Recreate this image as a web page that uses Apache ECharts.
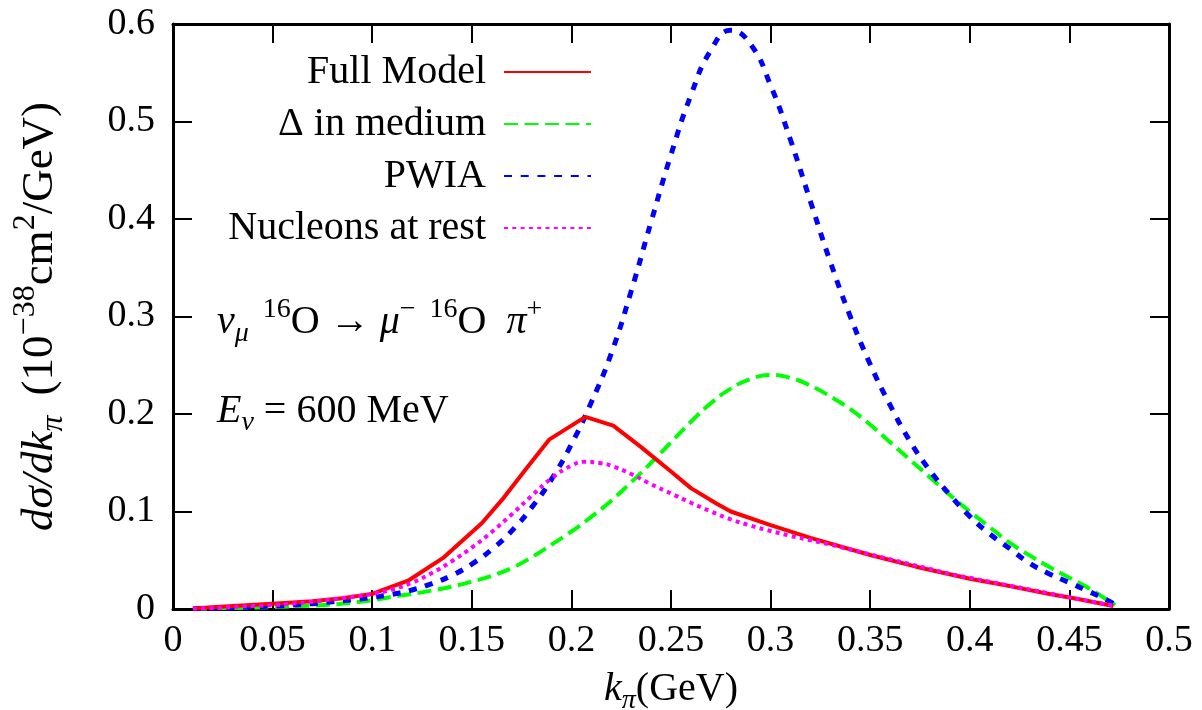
<!DOCTYPE html>
<html>
<head>
<meta charset="utf-8">
<script src="https://cdn.jsdelivr.net/npm/echarts@6/dist/echarts.min.js"></script>
<style>
  html, body { margin: 0; padding: 0; background: #fff; overflow: hidden; }
  #chart { width: 1202px; height: 710px; }
</style>
</head>
<body>
<div id="chart"></div>
<script>
// Pion momentum k_pi (GeV) and d(sigma)/dk_pi (10^-38 cm^2/GeV)
const fullModelK = [0.01, 0.03, 0.05, 0.07, 0.085, 0.1, 0.118, 0.136, 0.155, 0.166, 0.177, 0.189, 0.207, 0.221, 0.235, 0.25, 0.26, 0.273, 0.28, 0.30, 0.32, 0.35, 0.373, 0.40, 0.42, 0.44, 0.455, 0.472];
const fullModel  = [0.0005, 0.003, 0.0055, 0.008, 0.011, 0.0155, 0.029, 0.053, 0.088, 0.114, 0.143, 0.174, 0.197, 0.188, 0.166, 0.141, 0.124, 0.108, 0.100, 0.086, 0.073, 0.0554, 0.0434, 0.031, 0.0235, 0.0154, 0.010, 0.003];

const deltaK = [0.01, 0.03, 0.05, 0.07, 0.08, 0.09, 0.10, 0.11, 0.12, 0.13, 0.14, 0.15, 0.16, 0.17, 0.18, 0.19, 0.20, 0.21, 0.22, 0.23, 0.24, 0.25, 0.26, 0.27, 0.28, 0.29, 0.30, 0.31, 0.32, 0.33, 0.34, 0.35, 0.36, 0.37, 0.38, 0.39, 0.40, 0.41, 0.42, 0.43, 0.44, 0.45, 0.46, 0.47, 0.473];
const deltaMedium = [0.0005, 0.001, 0.002, 0.0035, 0.0045, 0.0065, 0.009, 0.0125, 0.0155, 0.019, 0.023, 0.028, 0.034, 0.042, 0.053, 0.066, 0.0795, 0.0945, 0.111, 0.130, 0.150, 0.171, 0.192, 0.211, 0.226, 0.236, 0.240, 0.237, 0.229, 0.218, 0.205, 0.189, 0.171, 0.153, 0.135, 0.117, 0.100, 0.084, 0.068, 0.055, 0.043, 0.032, 0.021, 0.008, 0.004];

const pwiaK = [0.01, 0.02, 0.03, 0.04, 0.05, 0.06, 0.07, 0.08, 0.09, 0.10, 0.11, 0.12, 0.13, 0.14, 0.15, 0.16, 0.17, 0.18, 0.19, 0.20, 0.21, 0.22, 0.23, 0.24, 0.25, 0.26, 0.27, 0.28, 0.29, 0.30, 0.31, 0.32, 0.33, 0.34, 0.35, 0.36, 0.37, 0.38, 0.39, 0.40, 0.41, 0.42, 0.43, 0.44, 0.45, 0.46, 0.47, 0.473];
const pwia = [0.0003, 0.0008, 0.0015, 0.0022, 0.003, 0.004, 0.0055, 0.0075, 0.0095, 0.012, 0.015, 0.0195, 0.026, 0.0345, 0.046, 0.061, 0.080, 0.104, 0.133, 0.169, 0.212, 0.262, 0.326, 0.397, 0.466, 0.527, 0.573, 0.5935, 0.579, 0.537, 0.481, 0.418, 0.356, 0.300, 0.251, 0.209, 0.172, 0.142, 0.117, 0.095, 0.077, 0.062, 0.047, 0.036, 0.027, 0.0178, 0.008, 0.004];

const restK = [0.01, 0.02, 0.03, 0.04, 0.05, 0.06, 0.07, 0.08, 0.09, 0.10, 0.11, 0.12, 0.13, 0.14, 0.15, 0.16, 0.17, 0.18, 0.19, 0.20, 0.207, 0.215, 0.22, 0.23, 0.24, 0.25, 0.26, 0.27, 0.28, 0.29, 0.30, 0.31, 0.32, 0.33, 0.34, 0.35, 0.36, 0.37, 0.38, 0.39, 0.40, 0.41, 0.42, 0.43, 0.44, 0.45, 0.46, 0.473];
const nucleonsRest = [0.0005, 0.001, 0.002, 0.003, 0.004, 0.0055, 0.0075, 0.010, 0.0125, 0.0155, 0.020, 0.027, 0.037, 0.049, 0.063, 0.079, 0.097, 0.116, 0.134, 0.147, 0.151, 0.1495, 0.147, 0.1385, 0.128, 0.1185, 0.109, 0.100, 0.092, 0.0855, 0.080, 0.075, 0.0705, 0.066, 0.061, 0.056, 0.051, 0.046, 0.041, 0.036, 0.032, 0.028, 0.024, 0.020, 0.016, 0.012, 0.008, 0.003];

const xTicks = { min: 0, max: 0.5, step: 0.05 };
const yTicks = { min: 0, max: 0.6, step: 0.1 };

const seriesNames = ['Full Model', '\u0394 in medium', 'PWIA', 'Nucleons at rest'];

const pair = (xs, ys) => xs.map((x, i) => [x, ys[i]]);

const SERIF = '"Liberation Serif", "DejaVu Serif", serif';

// rich-text styles for math-like labels at a given body / script size
function mathStyles(fs, ss, lh, gap) {
  const base = { fontFamily: SERIF, color: '#000' };
  return {
    rm:    Object.assign({ fontSize: fs, lineHeight: lh, verticalAlign: 'middle' }, base),
    it:    Object.assign({ fontSize: fs, lineHeight: lh, verticalAlign: 'middle', fontStyle: 'italic' }, base),
    op:    Object.assign({ fontSize: fs, lineHeight: lh, verticalAlign: 'middle', padding: [0, gap, 0, gap] }, base),
    sub:   Object.assign({ fontSize: ss, lineHeight: ss, verticalAlign: 'bottom', fontStyle: 'italic' }, base),
    sup:   Object.assign({ fontSize: ss, lineHeight: ss, verticalAlign: 'top' }, base),
    gap:   Object.assign({ fontSize: fs, lineHeight: lh, verticalAlign: 'middle', padding: [0, 0, 0, gap * 2] }, base)
  };
}
const richBody = mathStyles(40, 28, 52, 10);
const richYTitle = mathStyles(45, 32, 60, 10);

const frameAxis = {
  axisLine: { show: true, onZero: false, lineStyle: { color: '#000', width: 3 } },
  axisTick: { show: true, inside: true, length: 19, lineStyle: { color: '#000', width: 2 } },
  splitLine: { show: false }
};

const chart = echarts.init(document.getElementById('chart'), null, { renderer: 'canvas' });

// one legend block per entry so that every key line ends at the same x
const legendCenters = [72, 124, 176, 228];
const legends = seriesNames.map((name, i) => ({
  data: [name],
  orient: 'vertical',
  align: 'right',
  right: 1202 - 592,
  top: legendCenters[i] - 20,
  padding: 0,
  itemWidth: 87,
  itemHeight: 40,
  selectedMode: false,
  itemStyle: { opacity: 0, borderWidth: 0 },
  textStyle: { fontFamily: SERIF, fontSize: 40, color: '#000', padding: [0, 13, 0, 0] }
}));

chart.setOption({
  animation: false,
  backgroundColor: '#fff',
  grid: { left: 173, right: 33, top: 24, bottom: 101, containLabel: false, outerBoundsMode: 'none' },
  legend: legends,
  xAxis: [
    Object.assign({
      type: 'value', min: xTicks.min, max: xTicks.max, interval: xTicks.step,
      position: 'bottom',
      axisLabel: { color: '#000', fontFamily: SERIF, fontSize: 38, margin: 13 },
      name: '{it|k}{sub|\u03C0}{rm|(GeV)}',
      nameLocation: 'middle', nameGap: 54,
      nameTextStyle: { rich: richBody }
    }, frameAxis),
    Object.assign({
      type: 'value', min: xTicks.min, max: xTicks.max, interval: xTicks.step,
      position: 'top', axisLabel: { show: false }
    }, frameAxis)
  ],
  yAxis: [
    Object.assign({
      type: 'value', min: yTicks.min, max: yTicks.max, interval: yTicks.step,
      position: 'left',
      axisLabel: { color: '#000', fontFamily: SERIF, fontSize: 38, margin: 18 },
      name: '{it|d\u03C3/dk}{sub|\u03C0}{gap|(10}{sup|\u221238}{rm|cm}{sup|2}{rm|/GeV)}',
      nameLocation: 'middle', nameGap: 103, nameRotate: 90,
      nameTextStyle: { rich: richYTitle }
    }, frameAxis),
    Object.assign({
      type: 'value', min: yTicks.min, max: yTicks.max, interval: yTicks.step,
      position: 'right', axisLabel: { show: false }
    }, frameAxis)
  ],
  graphic: [
    {
      type: 'text', left: 217, top: 296,
      style: {
        text: '{it|\u03BD}{sub|\u03BC}{sup|  16}{rm|O}{op|\u2192}{it|\u03BC}{sup|\u2212  16}{rm|O  }{it|\u03C0}{sup|+}',
        rich: richBody
      }
    },
    {
      type: 'text', left: 217, top: 391,
      style: {
        text: '{it|E}{sub|\u03BD}{op|=}{rm|600 MeV}',
        rich: richBody
      }
    }
  ],
  series: [
    {
      name: seriesNames[0], type: 'line', data: pair(fullModelK, fullModel),
      showSymbol: false, symbol: 'none', z: 5,
      lineStyle: { color: '#ff0000', width: 4, type: 'solid' },
      itemStyle: { color: '#ff0000' }
    },
    {
      name: seriesNames[1], type: 'line', data: pair(deltaK, deltaMedium),
      showSymbol: false, symbol: 'none', smooth: 0.5, z: 3,
      lineStyle: { color: '#00ff00', width: 4, type: [14, 6.5] },
      itemStyle: { color: '#00ff00' }
    },
    {
      name: seriesNames[2], type: 'line', data: pair(pwiaK, pwia),
      showSymbol: false, symbol: 'none', smooth: 0.5, z: 4,
      lineStyle: { color: '#0000ff', width: 5, type: [8, 8.7] },
      itemStyle: { color: '#0000ff' }
    },
    {
      name: seriesNames[3], type: 'line', data: pair(restK, nucleonsRest),
      showSymbol: false, symbol: 'none', smooth: 0.5, z: 6,
      lineStyle: { color: '#ff00ff', width: 4, type: [4, 4.3] },
      itemStyle: { color: '#ff00ff' }
    }
  ]
});
</script>
</body>
</html>
